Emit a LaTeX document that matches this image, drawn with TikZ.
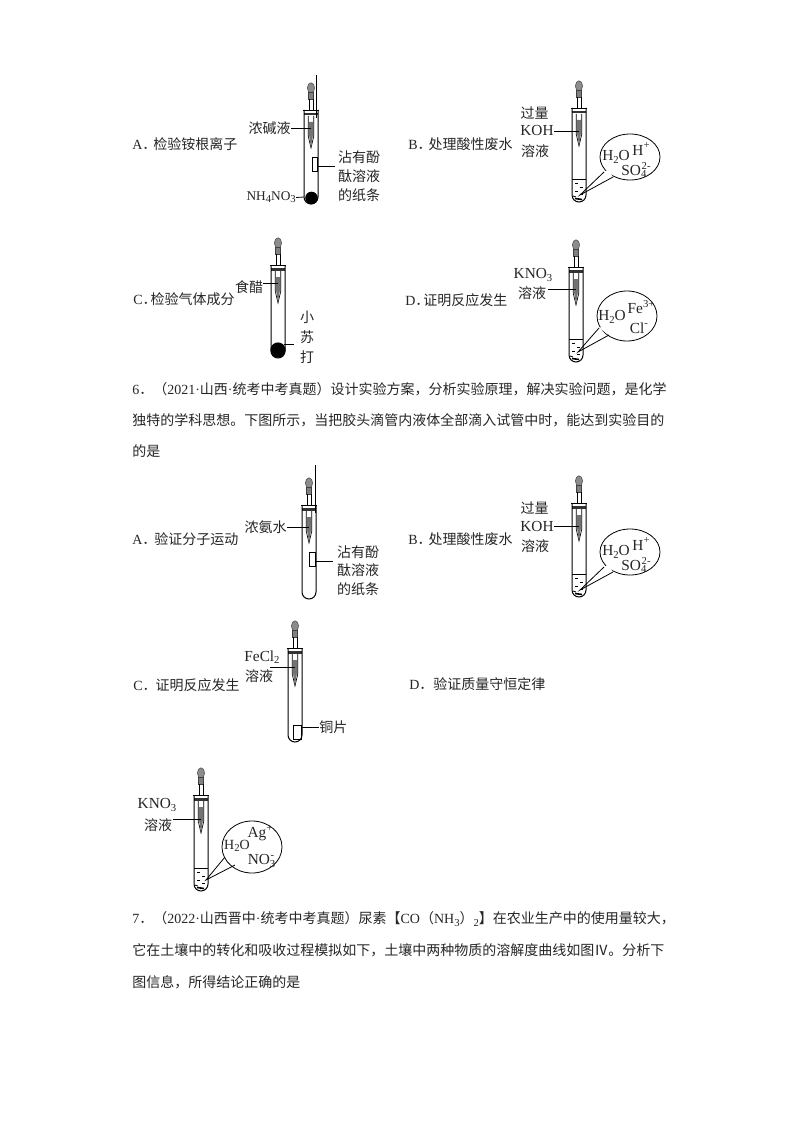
\documentclass[tikz,border=0pt]{standalone}
\usepackage{fontspec}
\setmainfont{Noto Sans CJK SC}
\newfontfamily\lat{Liberation Serif}
\XeTeXlinebreaklocale "zh"
\XeTeXlinebreakskip=0pt plus 3pt minus 2pt
\usetikzlibrary{calc}
\newcommand{\lsub}[1]{\raisebox{-0.35ex}{\fontsize{8}{9}\selectfont #1}}
\newcommand{\lsup}[1]{\raisebox{0.9ex}{\fontsize{8}{9}\selectfont #1}}
\newcommand{\jline}[2]{\hbox to #1{#2}}
\tikzset{
  txt/.style={inner sep=0pt,font=\fontsize{10.5}{12}\selectfont,text=black!85},
  chem/.style={inner sep=0pt,font=\fontsize{11.5}{13}\selectfont\lat,text=black!85},
  glass/.style={line width=0.75pt,black},
  leader/.style={line width=0.6pt,black},
  balloon/.style={line width=0.6pt,black}
}
% #1 name, #2 cx, #3 stopper top, #4 bottom
\newcommand{\tube}[4]{%
  \coordinate (#1-p) at (#2,#3+22);
  \fill[black!45] (#2,#3-22) ellipse [x radius=3.6,y radius=5.2];
  \draw[black!70,line width=0.4pt] (#2,#3-22) ellipse [x radius=3.6,y radius=5.2];
  \fill[black!50] ({#2-2.4},#3-18) rectangle ({#2+2.4},#3-11);
  \draw[line width=0.5pt,black!75] ({#2-2.4},#3-18) rectangle ({#2+2.4},#3-11);
  \draw[glass,line width=0.6pt] ({#2-2},#3-11) -- ({#2-2},#3) ({#2+2},#3-11) -- ({#2+2},#3);
  \draw[glass,line width=0.6pt] ({#2-8},#3) -- ({#2+8},#3);
  \fill[black!80] ({#2-7},#3+3) rectangle ({#2+7},#3+5.5);
  \draw[glass] ({#2-7},#3) -- ({#2-7},#4-7) arc [start angle=180,end angle=0,radius=7] -- ({#2+7},#3);
  \draw[line width=0.5pt] ({#2-2.8},#3+6) -- ({#2-2.8},#3+26) -- (#2,#3+38) -- ({#2+2.8},#3+26) -- ({#2+2.8},#3+6);
  \fill[black!55] ({#2-1.8},#3+12) -- ({#2+1.8},#3+12) -- ({#2+1.8},#3+26) -- (#2,#3+38) -- ({#2-1.8},#3+26) -- cycle;
}
% liquid: #1 cx, #2 bottom
\newcommand{\liquid}[2]{%
  \draw[line width=0.5pt] ({#1-7},#2-23) -- ({#1+7},#2-23);
  \draw[line width=0.5pt] ({#1-4},#2-19) -- ({#1-1},#2-19) ({#1+1},#2-15) -- ({#1+4},#2-15) ({#1-4},#2-11) -- ({#1-1},#2-11) ({#1+1},#2-8) -- ({#1+4},#2-8);
  \draw[line width=1.2pt] ({#1-4},#2-3.5) -- ({#1+3},#2-2.5);
  \draw[line width=0.6pt] ({#1-6},#2-6) -- ({#1-3},#2-5);
}
% bubble: #1 cx,#2 cy,#3 rx,#4 ry,#5 p1,#6 p2,#7 tip
\newcommand{\bubble}[7]{%
  \draw[balloon] (#1,#2) ellipse [x radius=#3,y radius=#4];
  \fill[white] #5 -- #6 -- ($#5!0.5!#6 + (-1,-7)$) -- (#1,#2) -- cycle;
  \draw[balloon] #5 -- #7 -- #6;
}
\begin{document}
\begin{tikzpicture}[x=0.75pt,y=-0.75pt]
\useasboundingbox (0,0) rectangle (794,1123);
\fill[white] (0,0) rectangle (794,1123);

% ---------- top row A
\tube{ta}{311}{110}{204}
\draw[leader] (316.5,75) -- (316.5,118);
\fill[black] (311.5,198) circle [radius=6.3];
\draw[glass,line width=0.6pt] (312,157) rectangle (317,171);
\coordinate (ta-s) at (317,166);
\coordinate (ta-n) at (304,197);
\coordinate (ta-q) at (311,128);
\node[txt,anchor=west] (la) at (132,144) {{\lat A}．\hspace{-2.2pt}检验铵根离子};
\node[txt,anchor=east] (la1) at (291,128) {浓碱液};
\node[txt] (la2) at (359,157) {沾有酚};
\node[txt] (la3) at (359,176) {酞溶液};
\node[txt] (la4) at (359,195) {的纸条};
\node[chem,anchor=east,font=\fontsize{10}{12}\selectfont\lat] (la5) at (296,197.5) {NH\lsub{4}NO\lsub{3}};
\coordinate (la2-end) at (335,166);
\draw[leader] (la1.east) -- (ta-q);
\draw[leader] (ta-s) -- (la2-end);
\draw[leader] (la5.east) -- (ta-n);

% ---------- top row B
\node[txt,anchor=west] (lb) at (408,144) {{\lat B}．\hspace{-2.2pt}处理酸性废水};
\bubble{630}{157}{30}{23}{(604,172)}{(613,177)}{(580,195)}
\tube{tb}{579}{108}{202}
\liquid{579}{202}
\node[txt] (lb1) at (534.5,113) {过量};
\node[chem] (lb2) at (537,131) {KOH};
\node[txt] (lb3) at (535,151) {溶液};
\coordinate (tb-q) at (579,131);
\draw[leader] (lb2.east) -- (tb-q);
\node[chem] (lb4) at (616,157) {H\lsub{2}O};
\node[chem] (lb5) at (641,149) {H\lsup{+}};
\node[chem] (lb6) at (636,170) {SO\lsub{4}\hspace{-3.5pt}\lsup{2-}};

% ---------- second row C
\node[txt,anchor=west] (lc) at (133,299) {{\lat C}．\hspace{-4.5pt}检验气体成分};
\tube{tc}{278}{265}{358}
\fill[black] (278,350) circle [radius=7.6];
\node[txt] (lc1) at (249,287) {食醋};
\coordinate (tc-q) at (278,283);
\coordinate (tc-b) at (284,344);
\coordinate (tc-e) at (294,344);
\coordinate (lc1-e) at (263,283);
\draw[leader] (lc1-e) -- (tc-q);
\draw[leader] (tc-b) -- (tc-e);
\node[txt] (lc2) at (307,317) {小};
\node[txt] (lc3) at (307,337) {苏};
\node[txt] (lc4) at (307,357) {打};

% ---------- second row D
\node[txt,anchor=west] (ld) at (405,300) {{\lat D}．\hspace{-4.5pt}证明反应发生};
\bubble{627}{316}{30}{25}{(599,328)}{(609,335)}{(578,352)}
\tube{td}{576}{267}{362}
\liquid{576}{362}
\node[chem] (ld1) at (533,275) {KNO\lsub{3}};
\node[txt] (ld2) at (532,293) {溶液};
\coordinate (td-q) at (576,289);
\coordinate (ld2-e) at (548,289);
\draw[leader] (ld2-e) -- (td-q);
\node[chem] (ld3) at (612,317) {H\lsub{2}O};
\node[chem] (ld4) at (641,307) {Fe\lsup{3+}};
\node[chem] (ld5) at (639,328) {Cl\lsup{-}};

% ---------- question 6
\node[txt,anchor=west] (q61) at (132,389) {\jline{398.5pt}{{\lat 6}．（{\lat 2021·}山西{\lat ·}统考中考真题）设计实验方案，分析实验原理，解决实验问题，是化学}};
\node[txt,anchor=west] (q62) at (132,420) {\jline{399pt}{独特的学科思想。下图所示，当把胶头滴管内液体全部滴入试管中时，能达到实验目的}};
\node[txt,anchor=west] (q63) at (132,451) {的是};

% ---------- q6 A
\node[txt,anchor=west] (ma) at (132,539) {{\lat A}．\hspace{-1.5pt}验证分子运动};
\tube{tm}{309}{505}{599}
\draw[leader] (315,465) -- (315,513);
\draw[glass,line width=0.6pt] (309,552) rectangle (315,566);
\coordinate (tm-s) at (315,561);
\coordinate (tm-q) at (309,527);
\coordinate (ma2-e) at (333,561);
\node[txt,anchor=east] (ma1) at (287,527) {浓氨水};
\node[txt] (ma2) at (358,552) {沾有酚};
\node[txt] (ma3) at (358,570) {酞溶液};
\node[txt] (ma4) at (358,589) {的纸条};
\draw[leader] (ma1.east) -- (tm-q);
\draw[leader] (tm-s) -- (ma2-e);

% ---------- q6 B
\node[txt,anchor=west] (mb) at (408,539) {{\lat B}．\hspace{-2.2pt}处理酸性废水};
\bubble{630}{552}{30}{23}{(604,567)}{(613,572)}{(580,590)}
\tube{tn}{579}{503}{597}
\liquid{579}{597}
\node[txt] (mb1) at (534.5,508) {过量};
\node[chem] (mb2) at (537,526) {KOH};
\node[txt] (mb3) at (535,546) {溶液};
\coordinate (tn-q) at (579,526);
\draw[leader] (mb2.east) -- (tn-q);
\node[chem] (mb4) at (616,552) {H\lsub{2}O};
\node[chem] (mb5) at (641,544) {H\lsup{+}};
\node[chem] (mb6) at (636,565) {SO\lsub{4}\hspace{-3.5pt}\lsup{2-}};

% ---------- q6 C
\node[txt,anchor=west] (mc) at (133,685) {{\lat C}．\hspace{-0.8pt}证明反应发生};
\tube{to}{295}{648}{742}
\draw[glass,line width=0.6pt] (293,725) rectangle (301,739);
\coordinate (to-c) at (301,727);
\coordinate (to-q) at (295,667);
\coordinate (mc1-e) at (270,667);
\node[chem] (mc1) at (262,657) {FeCl\lsub{2}};
\node[txt] (mc2) at (259,676) {溶液};
\node[txt,anchor=west] (mc3) at (319,727) {铜片};
\draw[leader] (mc1-e) -- (to-q);
\draw[leader] (to-c) -- (mc3.west);

% ---------- q6 D
\node[txt,anchor=west] (md) at (409,684) {{\lat D}．验证质量守恒定律};

% ---------- KNO3 tube
\bubble{252}{847}{30}{26}{(225,857)}{(235,865)}{(206,880)}
\tube{tp}{201}{795}{891}
\liquid{201}{891}
\node[chem] (me1) at (157,805) {KNO\lsub{3}};
\node[txt] (me2) at (158,825) {溶液};
\coordinate (tp-q) at (201,819);
\coordinate (me2-e) at (173,819);
\draw[leader] (me2-e) -- (tp-q);
\node[chem] (me3) at (260,833) {Ag\lsup{+}};
\node[chem,font=\fontsize{10.5}{12}\selectfont\lat] (me4) at (237,846) {H\lsub{2}O};
\node[chem] (me5) at (261,861) {NO\lsub{3}\hspace{-3.5pt}\lsup{-}};

% ---------- question 7
\node[txt,anchor=west] (q71) at (132,919) {\jline{402pt}{{\lat 7}．（{\lat 2022·}山西晋中{\lat ·}统考中考真题）尿素【{\lat CO}（{\lat NH\lsub{3}}）{\lat\lsub{2}}】在农业生产中的使用量较大，}};
\node[txt,anchor=west] (q72) at (132,950) {\jline{399pt}{它在土壤中的转化和吸收过程模拟如下，土壤中两种物质的溶解度曲线如图Ⅳ。分析下}};
\node[txt,anchor=west] (q73) at (132,982) {图信息，所得结论正确的是};
\end{tikzpicture}
\end{document}
